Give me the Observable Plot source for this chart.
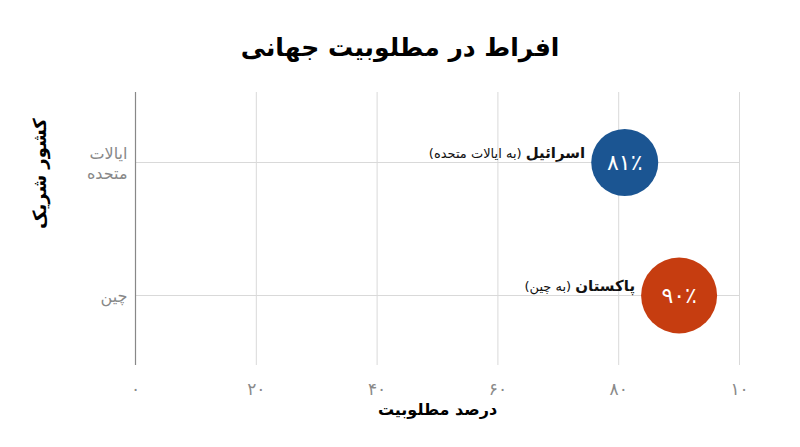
<!DOCTYPE html>
<html lang="fa">
<head>
<meta charset="utf-8">
<script src="https://cdn.jsdelivr.net/npm/d3@7"></script>
<script src="https://cdn.jsdelivr.net/npm/@observablehq/plot@0.6"></script>
<style>
  html, body { margin: 0; padding: 0; background: #fff; }
  body { width: 800px; height: 447px; overflow: hidden; font-family: "DejaVu Sans", sans-serif; }
  #title { height: 80px; line-height: 96px; text-align: center; font-size: 25px; font-weight: bold; color: #000; direction: rtl; }
  #chart svg { display: block; }
</style>
</head>
<body>
<div id="title">افراط در مطلوبیت جهانی</div>
<div id="chart"></div>
<script>
// Data
const partners = ["ایالات متحده", "چین"];            // y categories (partner country)
const partnerTickLabels = ["ایالات\nمتحده", "چین"];
const countries = ["اسرائیل", "پاکستان"];             // country names
const countryNotes = ["(به ایالات متحده)", "(به چین)"];
const favorability = [81, 90];                       // percent favorability
const valueLabels = ["۸۱٪", "۹۰٪"];
const colors = ["#1b5592", "#c63d10"];
const xTicks = [0, 20, 40, 60, 80, 100];
const xTickLabels = ["۰", "۲۰", "۴۰", "۶۰", "۸۰", "۱۰"];

const rows = partners.map((p, i) => ({
  partner: p, country: countries[i], note: countryNotes[i],
  value: favorability[i], label: valueLabels[i], color: colors[i]
}));

const width = 800, height = 367;
const marginLeft = 135, marginRight = 61, marginTop = 12, marginBottom = 82;
const pxPerUnit = (width - marginLeft - marginRight) / 100;
const rScale = d3.scaleLinear().domain([81, 90]).range([33.5, 38]);
const labelGap = 6;
const fullLabel = d => d.country + " " + d.note;

const chart = Plot.plot({
  width, height, marginLeft, marginRight, marginTop, marginBottom,
  style: { fontFamily: "DejaVu Sans, sans-serif", background: "#fff" },
  x: { domain: [0, 100] },
  y: { type: "point", domain: partners, padding: 0.52 },
  r: { type: "identity" },
  marks: [
    Plot.gridX(xTicks, { stroke: "#d9d9d9", strokeOpacity: 1, strokeWidth: 1 }),
    Plot.gridY(partners, { stroke: "#d9d9d9", strokeOpacity: 1, strokeWidth: 1 }),
    Plot.ruleX([0], { stroke: "#888", strokeWidth: 1.2 }),
    Plot.axisX(xTicks, {
      tickSize: 0, tickPadding: 17, fontSize: 17, fill: "#8a8a8a", label: null,
      tickFormat: d => xTickLabels[xTicks.indexOf(d)]
    }),
    Plot.axisY(partners, {
      tickSize: 0, tickPadding: 8, fontSize: 16, fill: "#888", label: null,
      tickFormat: d => partnerTickLabels[partners.indexOf(d)], lineHeight: 1.25
    }),
    Plot.text(["درصد مطلوبیت"], {
      frameAnchor: "bottom", dy: 49, fontSize: 16, fontWeight: "bold", fill: "#000"
    }),
    Plot.text(["کشور شریک"], {
      frameAnchor: "left", dx: -95, rotate: -90, fontSize: 18, fontWeight: "bold", fill: "#000"
    }),
    Plot.dot(rows, {
      x: "value", y: "partner", r: d => rScale(d.value), fill: d => d.color, stroke: null
    }),
    Plot.text(rows, {
      x: "value", y: "partner", text: "label", fill: "#fff", fontSize: 22
    }),
    Plot.text(rows, {
      x: d => d.value - (rScale(d.value) + labelGap) / pxPerUnit,
      y: "partner", dy: -9, text: fullLabel,
      textAnchor: "end", fontSize: 13, fill: "#111"
    })
  ]
});

// Bold country name, regular note, right-to-left (in RTL, "start" is the right edge)
const labelTexts = rows.map(fullLabel);
d3.select(chart).selectAll("text").each(function() {
  const i = labelTexts.indexOf(this.textContent);
  if (i < 0) return;
  const t = d3.select(this);
  t.attr("direction", "rtl").style("direction", "rtl").style("unicode-bidi", "embed")
   .attr("text-anchor", "start").style("text-anchor", "start").text(null);
  t.append("tspan").attr("font-weight", "bold").style("font-weight", "bold")
   .style("font-size", "15px").text(rows[i].country);
  t.append("tspan").text(" " + rows[i].note);
});

document.getElementById("chart").appendChild(chart);
</script>
</body>
</html>
